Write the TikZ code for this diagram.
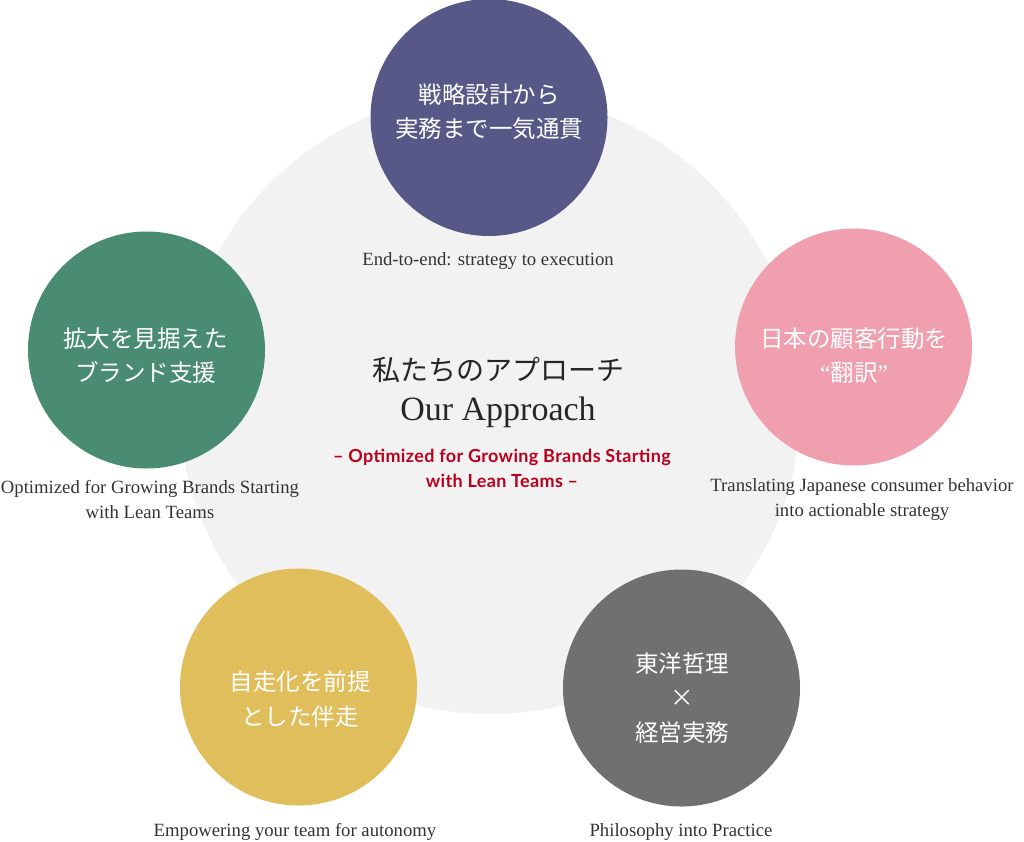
\documentclass[tikz,border=0pt]{standalone}
\usepackage{fontspec}
\setmainfont{Liberation Serif}
\newfontfamily\jp{Noto Sans CJK JP}
\newfontfamily\lato[LetterSpace=2]{Lato}
\definecolor{bggray}{HTML}{F2F2F2}
\definecolor{cpurple}{HTML}{575887}
\definecolor{cgreen}{HTML}{4A8C72}
\definecolor{cpink}{HTML}{F09FAF}
\definecolor{cyellow}{HTML}{E1BE5C}
\definecolor{cgrey}{HTML}{707070}
\definecolor{cred}{HTML}{B8001F}
\definecolor{ctext}{HTML}{333333}
\tikzset{
  bubble/.style={circle, minimum size=237pt, inner sep=0pt, draw=none},
  jplabel/.style={text=white, align=center, font=\jp\fontsize{23.5}{34.5}\selectfont},
  caption/.style={text=ctext, align=center, font=\fontsize{18.7}{25}\selectfont},
}
\begin{document}
\begin{tikzpicture}[x=1pt,y=-1pt]
\useasboundingbox (0,0) rectangle (1024,841);
\node[circle, fill=bggray, minimum size=622pt, inner sep=0pt] (bg) at (490,403) {};
\node[bubble, fill=cpurple] (c1) at (489,117.5) {};
\node[bubble, fill=cgreen] (c2) at (146.5,350) {};
\node[bubble, fill=cpink] (c3) at (853.5,347) {};
\node[bubble, fill=cyellow] (c4) at (298.5,687) {};
\node[bubble, fill=cgrey] (c5) at (681.5,688) {};
\node[jplabel] (t1) at (489,111.5) {戦略設計から\\実務まで一気通貫};
\node[jplabel] (t2) at (145.5,355.5) {拡大を見据えた\\ブランド支援};
\node[jplabel] (t3) at (854,355.5) {日本の顧客行動を\\{\rmfamily “}翻訳{\rmfamily ”}};
\node[jplabel] (t4) at (300,699) {自走化を前提\\とした伴走};
\node[jplabel] (t5) at (682,698) {東洋哲理\\×\\経営実務};
\node[caption] (k1) at (488,261) {End-to-end: strategy to execution};
\node[caption] (k2) at (150,499.5) {Optimized for Growing Brands Starting\\with Lean Teams};
\node[caption] (k3) at (862,499.5) {Translating Japanese consumer behavior\\into actionable strategy};
\node[caption] (k4) at (295,832) {Empowering your team for autonomy};
\node[caption] (k5) at (681,832) {Philosophy into Practice};
\node[text=black!85, font=\jp\fontsize{28}{34}\selectfont] (m1) at (498,370) {私たちのアプローチ};
\node[text=black!85, font=\fontsize{34}{40}\selectfont] (m2) at (498,412) {Our Approach};
\node[text=cred, align=center, font=\lato\bfseries\fontsize{18}{25}\selectfont] (m3) at (502,468) {– Optimized for Growing Brands Starting\\with Lean Teams –};
\end{tikzpicture}
\end{document}
